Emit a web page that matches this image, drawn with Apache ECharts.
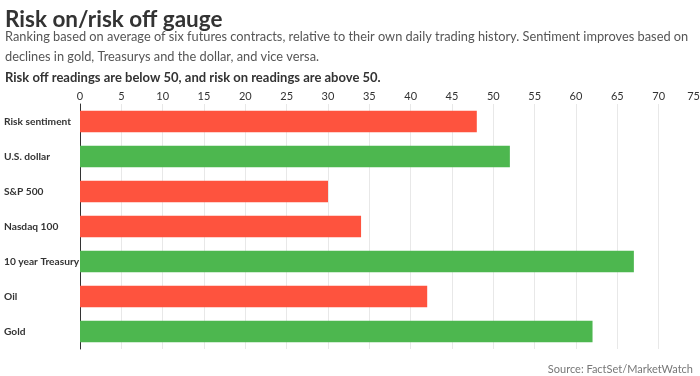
<!DOCTYPE html>
<html>
<head>
<meta charset="utf-8">
<script src="https://cdn.jsdelivr.net/npm/echarts@6/dist/echarts.min.js"></script>
<style>
  html, body { margin: 0; padding: 0; background: #fff; }
  #chart { width: 700px; height: 376px; }
</style>
</head>
<body>
<div id="chart"></div>
<script>
// data
var categories = ['Risk sentiment', 'U.S. dollar', 'S&P 500', 'Nasdaq 100', '10 year Treasury', 'Oil', 'Gold'];
var values = [48, 52, 30, 34, 67, 42, 62];
var RED = '#fe533e';
var GREEN = '#4db74f';

var chart = echarts.init(document.getElementById('chart'));

var option = {
  backgroundColor: '#fff',
  animation: false,
  textStyle: { fontFamily: 'Lato' },
  title: [{
    text: 'Risk on/risk off gauge',
    left: 0, top: 3,
    textStyle: { fontSize: 22.5, fontWeight: 'bold', color: '#333', fontFamily: 'Lato' }
  }, {
    text: 'Ranking based on average of six futures contracts, relative to their own daily trading history. Sentiment improves based on\ndeclines in gold, Treasurys and the dollar, and vice versa.',
    left: 0, top: 22,
    textStyle: { fontSize: 12.8, fontWeight: 'normal', color: '#555', lineHeight: 20, fontFamily: 'Lato' }
  }, {
    text: 'Risk off readings are below 50, and risk on readings are above 50.',
    left: 0, top: 66,
    textStyle: { fontSize: 13, fontWeight: 'bold', color: '#333', fontFamily: 'Lato' }
  }, {
    text: 'Source: FactSet/MarketWatch',
    right: 2, top: 359,
    textStyle: { fontSize: 11, fontWeight: 'normal', color: '#777', fontFamily: 'Lato' }
  }],
  grid: { left: 80, right: 0, top: 104, bottom: 27, containLabel: false, outerBoundsMode: 'none' },
  xAxis: {
    type: 'value',
    position: 'top',
    min: 0, max: 75, interval: 5,
    axisLine: { show: false },
    axisTick: { show: false },
    axisLabel: { color: '#333', fontSize: 11, margin: 2, alignMaxLabel: 'right' },
    splitLine: { lineStyle: { color: '#e8e8e8', width: 1 } }
  },
  yAxis: {
    type: 'category',
    data: categories,
    inverse: true,
    axisLine: { show: true, lineStyle: { color: '#333', width: 1 } },
    axisTick: { show: false },
    axisLabel: { color: '#333', fontSize: 10.2, fontWeight: 'bold', align: 'left', margin: 76, overflow: 'none', width: 120 }
  },
  series: [{
    type: 'bar',
    barCategoryGap: '39%',
    data: values.map(function (v) {
      return { value: v, itemStyle: { color: v < 50 ? RED : GREEN } };
    })
  }]
};

chart.setOption(option);
</script>
</body>
</html>
